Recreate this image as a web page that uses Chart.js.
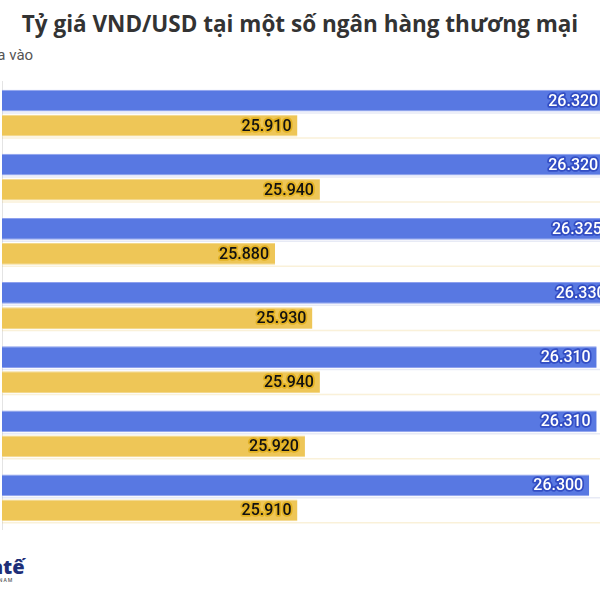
<!DOCTYPE html>
<html>
<head>
<meta charset="utf-8">
<script src="https://cdn.jsdelivr.net/npm/chart.js@4"></script>
<style>
  html, body { margin: 0; padding: 0; background: #fff; overflow: hidden; width: 600px; height: 600px; }
  #title {
    position: absolute; top: 8px; left: 0; width: 600px; text-align: center;
    font-family: "Open Sans", sans-serif; font-weight: 700; font-size: 22.5px; color: #333;
  }
  #legend {
    position: absolute; top: 46px; left: -24px;
    font-family: Roboto, sans-serif; font-size: 15px; color: #555;
  }
  #chartBox { position: absolute; top: 81px; left: 2px; width: 662px; height: 449px; }
  #logo {
    position: absolute; top: 557px; left: -44px; color: #1e2f78;
    font-family: "Open Sans", sans-serif; font-weight: 800; font-size: 20px; line-height: 20px;
  }
  #logo small { display: block; font-size: 5px; line-height: 6px; letter-spacing: 1px; font-weight: 600; color: #555; padding-left: 26px; }
</style>
</head>
<body>
<div id="title">Tỷ giá VND/USD tại một số ngân hàng thương mại</div>
<div id="legend">Mua vào</div>
<div id="chartBox"><canvas id="rateChart"></canvas></div>
<div id="logo">Kinhtế<small>VIET NAM</small></div>

<script>
// Banks (names are cut off in the source image)
const banks = ['NH 1', 'NH 2', 'NH 3', 'NH 4', 'NH 5', 'NH 6', 'NH 7'];
// Bán ra (blue) and Mua vào (yellow), VND per USD
const sellRates = [26320, 26320, 26325, 26330, 26310, 26310, 26300];
const buyRates = [25910, 25940, 25880, 25930, 25940, 25920, 25910];

const blue = '#5878e2';
const yellow = '#eec657';

// Format 26320 -> "26.320"
function fmt(v) {
    return v.toLocaleString('de-DE');
}

// Faint full-width line under every bar + value labels inside bar ends
const barDecor = {
    id: 'barDecor',
    beforeDatasetsDraw(chart) {
        const ctx = chart.ctx;
        const area = chart.chartArea;
        ctx.save();
        chart.data.datasets.forEach((ds, i) => {
            ctx.strokeStyle = i === 0 ? 'rgba(120,140,200,0.18)' : 'rgba(230,190,80,0.22)';
            ctx.lineWidth = 1.5;
            chart.getDatasetMeta(i).data.forEach(bar => {
                const yb = bar.y + bar.height / 2 + 1.5;
                ctx.beginPath();
                ctx.moveTo(area.left, yb);
                ctx.lineTo(area.right, yb);
                ctx.stroke();
            });
        });
        ctx.restore();
    },
    afterDatasetsDraw(chart) {
        const ctx = chart.ctx;
        ctx.save();
        ctx.font = '500 16px Roboto, sans-serif';
        ctx.textAlign = 'right';
        ctx.textBaseline = 'middle';
        ctx.lineJoin = 'round';
        chart.data.datasets.forEach((ds, i) => {
            chart.getDatasetMeta(i).data.forEach((bar, j) => {
                const txt = fmt(ds.data[j]);
                const x = bar.x - 6;
                const y = bar.y + 1;
                if (i === 0) {
                    ctx.strokeStyle = 'rgba(45,70,190,0.85)';
                    ctx.fillStyle = '#fff';
                } else {
                    ctx.strokeStyle = 'rgba(225,175,30,0.9)';
                    ctx.fillStyle = '#111';
                }
                ctx.lineWidth = 3.5;
                ctx.strokeText(txt, x, y);
                ctx.fillText(txt, x, y);
            });
        });
        ctx.restore();
    }
};

new Chart(document.getElementById('rateChart'), {
    type: 'bar',
    data: {
        labels: banks,
        datasets: [
            {
                label: 'Bán ra',
                data: sellRates,
                backgroundColor: blue,
                borderColor: '#8da0ee',
                borderWidth: { top: 1, bottom: 1, left: 0, right: 0 },
                borderSkipped: false
            },
            {
                label: 'Mua vào',
                data: buyRates,
                backgroundColor: yellow,
                borderColor: '#f3d88c',
                borderWidth: { top: 1, bottom: 1, left: 0, right: 0 },
                borderSkipped: false
            }
        ]
    },
    options: {
        indexAxis: 'y',
        responsive: true,
        maintainAspectRatio: false,
        animation: false,
        categoryPercentage: 0.78,
        barPercentage: 0.87,
        layout: { padding: 0 },
        plugins: {
            legend: { display: false },
            tooltip: { enabled: false }
        },
        scales: {
            x: {
                display: false,
                min: 25515,
                max: 26400
            },
            y: {
                display: true,
                ticks: { display: false },
                grid: { display: false, drawTicks: false },
                border: { display: true, color: '#e4e4e4', width: 2 }
            }
        }
    },
    plugins: [barDecor]
});
</script>
</body>
</html>
